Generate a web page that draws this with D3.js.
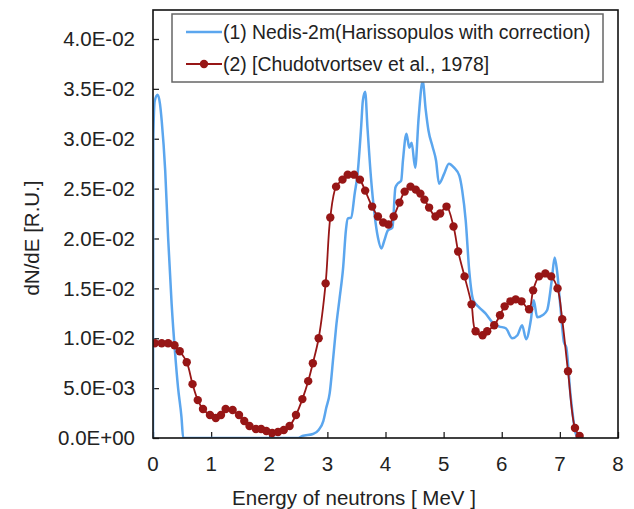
<!DOCTYPE html>
<html>
<head>
<meta charset="utf-8">
<script src="https://cdn.jsdelivr.net/npm/d3@7"></script>
<style>
  html, body { margin: 0; padding: 0; background: #fff; }
  svg { display: block; font-family: "Liberation Sans", Arial, sans-serif; }
</style>
</head>
<body>
<svg id="chart" width="634" height="509"></svg>
<script>
// series (1) Nedis-2m, energy [MeV] and dN/dE
const nedisE = [0, 0.005, 0.03, 0.08, 0.12, 0.15, 0.21, 0.26, 0.32, 0.38, 0.43, 0.49, 0.52,
  2.50, 2.57, 2.75, 2.85, 2.93, 2.98, 3.04, 3.10, 3.15, 3.21, 3.27, 3.32, 3.35, 3.41, 3.47, 3.52,
  3.58, 3.61, 3.65, 3.69, 3.75, 3.81, 3.87, 3.93, 3.98, 4.04, 4.12, 4.17, 4.21, 4.27, 4.30, 4.36,
  4.41, 4.45, 4.51, 4.57, 4.64, 4.69, 4.74, 4.81, 4.87, 4.92, 5.01, 5.09, 5.18, 5.27, 5.32, 5.38,
  5.44, 5.51, 5.61, 5.72, 5.84, 5.95, 6.07, 6.18, 6.27, 6.35, 6.42, 6.50, 6.55, 6.61, 6.70, 6.78,
  6.86, 6.91, 6.95, 7.01, 7.07, 7.11, 7.18, 7.27, 7.31];
const nedisV = [0, 0.0300, 0.0338, 0.0344, 0.0335, 0.0318, 0.0268, 0.0201, 0.0135, 0.0085, 0.0051, 0.0021, 0,
  0, 0.0002, 0.0004, 0.0008, 0.0017, 0.0030, 0.0045, 0.0080, 0.0111, 0.0140, 0.0170, 0.0209, 0.0220, 0.0221, 0.0245, 0.0265,
  0.0311, 0.0338, 0.0347, 0.0311, 0.0261, 0.0225, 0.0201, 0.0190, 0.0198, 0.0208, 0.0211, 0.0251, 0.0255, 0.0258, 0.0278, 0.0305,
  0.0291, 0.0296, 0.0271, 0.0321, 0.0358, 0.0330, 0.0308, 0.0292, 0.0278, 0.0255, 0.0265, 0.0275, 0.0271, 0.0263, 0.0248, 0.0218,
  0.0168, 0.0138, 0.0131, 0.0125, 0.0116, 0.0112, 0.0110, 0.0100, 0.0103, 0.0113, 0.0099, 0.0118, 0.0138, 0.0121, 0.0123, 0.0128,
  0.0158, 0.0181, 0.0168, 0.0131, 0.0096, 0.0091, 0.0045, 0.0005, 0];

// series (2) Chudotvortsev et al., 1978
const chudE = [0.03, 0.15, 0.26, 0.37, 0.46, 0.58, 0.68, 0.77, 0.86, 0.98, 1.08, 1.17, 1.25, 1.37,
  1.48, 1.57, 1.66, 1.77, 1.86, 1.95, 2.05, 2.15, 2.25, 2.35, 2.46, 2.57, 2.67, 2.75, 2.85, 2.97,
  3.05, 3.15, 3.26, 3.35, 3.46, 3.56, 3.65, 3.77, 3.87, 3.96, 4.05, 4.14, 4.24, 4.33, 4.43, 4.52,
  4.60, 4.67, 4.75, 4.86, 4.94, 5.05, 5.17, 5.25, 5.36, 5.48, 5.55, 5.67, 5.75, 5.87, 5.97, 6.05,
  6.15, 6.24, 6.34, 6.47, 6.54, 6.64, 6.75, 6.85, 6.96, 7.04, 7.14, 7.26, 7.34];
const chudV = [0.0095, 0.0095, 0.0095, 0.0093, 0.0087, 0.0076, 0.0054, 0.0038, 0.0029, 0.0023, 0.0020, 0.0023, 0.0029, 0.0028,
  0.0023, 0.0017, 0.0012, 0.0009, 0.0009, 0.0007, 0.0005, 0.0006, 0.0008, 0.0012, 0.0023, 0.0039, 0.0057, 0.0075, 0.0100, 0.0155,
  0.0221, 0.0252, 0.0259, 0.0264, 0.0264, 0.0259, 0.0248, 0.0232, 0.0222, 0.0216, 0.0214, 0.0222, 0.0236, 0.0247, 0.0252, 0.0249,
  0.0245, 0.0239, 0.0231, 0.0222, 0.0225, 0.0232, 0.0212, 0.0187, 0.0162, 0.0134, 0.0107, 0.0103, 0.0107, 0.0113, 0.0123, 0.0132,
  0.0137, 0.0139, 0.0137, 0.0129, 0.0148, 0.0162, 0.0165, 0.0162, 0.0150, 0.0119, 0.0067, 0.0010, 0.0002];

const xTicks = [0, 1, 2, 3, 4, 5, 6, 7, 8];
const yTicks = [0, 0.005, 0.01, 0.015, 0.02, 0.025, 0.03, 0.035, 0.04];
const yTickLabels = ["0.0E+00", "5.0E-03", "1.0E-02", "1.5E-02", "2.0E-02", "2.5E-02", "3.0E-02", "3.5E-02", "4.0E-02"];
const legendLabels = ["(1) Nedis-2m(Harissopulos with correction)", "(2) [Chudotvortsev et al., 1978]"];

const blue = "#5BA6EE";
const red = "#971616";

const svg = d3.select("#chart");
const plotL = 153, plotR = 618, plotT = 10, plotB = 438;

const x = d3.scaleLinear().domain([0, 8]).range([plotL, plotR]);
const y = d3.scaleLinear().domain([0, 0.04]).range([plotB, 39]);

svg.append("defs").append("clipPath").attr("id", "plotclip")
  .append("rect").attr("x", plotL).attr("y", plotT).attr("width", plotR - plotL).attr("height", plotB - plotT);

// y axis with inward ticks
const yAxis = svg.append("g")
  .attr("transform", `translate(${plotL},0)`)
  .call(d3.axisRight(y).tickValues(yTicks).tickSize(6).tickFormat(""));
yAxis.select(".domain").remove();
yAxis.selectAll("line").attr("stroke", "#222").attr("stroke-width", 1.3);
svg.append("g").selectAll("text").data(yTicks).join("text")
  .attr("x", 135).attr("y", d => y(d))
  .attr("dy", "0.35em").attr("text-anchor", "end")
  .attr("font-size", 20.5).attr("fill", "#222")
  .text((d, i) => yTickLabels[i]);

// x axis with inward ticks
const xAxis = svg.append("g")
  .attr("transform", `translate(0,${plotB})`)
  .call(d3.axisTop(x).tickValues(xTicks).tickSize(6).tickFormat(""));
xAxis.select(".domain").remove();
xAxis.selectAll("line").attr("stroke", "#222").attr("stroke-width", 1.3);
svg.append("g").selectAll("text").data(xTicks).join("text")
  .attr("x", d => x(d)).attr("y", 471)
  .attr("text-anchor", "middle")
  .attr("font-size", 20.5).attr("fill", "#222")
  .text(d => d);

// axis titles
svg.append("text")
  .attr("x", 354).attr("y", 505)
  .attr("text-anchor", "middle").attr("font-size", 20.5).attr("fill", "#222")
  .text("Energy of neutrons [ MeV ]");
svg.append("text")
  .attr("transform", "translate(39,238) rotate(-90)")
  .attr("text-anchor", "middle").attr("font-size", 20.5).attr("fill", "#222")
  .text("dN/dE [R.U.]");

// series
const plot = svg.append("g").attr("clip-path", "url(#plotclip)");
const nedis = nedisE.map((e, i) => [e, nedisV[i]]);
const chud = chudE.map((e, i) => [e, chudV[i]]);

plot.append("path")
  .datum(nedis)
  .attr("fill", "none").attr("stroke", blue).attr("stroke-width", 2.5)
  .attr("stroke-linejoin", "round")
  .attr("d", d3.line().x(d => x(d[0])).y(d => y(d[1])).curve(d3.curveMonotoneX));

plot.append("path")
  .datum(chud)
  .attr("fill", "none").attr("stroke", red).attr("stroke-width", 1.8)
  .attr("d", d3.line().x(d => x(d[0])).y(d => y(d[1])).curve(d3.curveCatmullRom.alpha(0.5)));

plot.selectAll("circle").data(chud).join("circle")
  .attr("cx", d => x(d[0])).attr("cy", d => y(d[1]))
  .attr("r", 4.2).attr("fill", red);

// plot frame
svg.append("rect")
  .attr("x", plotL).attr("y", plotT).attr("width", plotR - plotL).attr("height", plotB - plotT)
  .attr("fill", "none").attr("stroke", "#111").attr("stroke-width", 1.6);

// legend
const lg = svg.append("g");
lg.append("rect")
  .attr("x", 172).attr("y", 14).attr("width", 431).attr("height", 68)
  .attr("fill", "#fff").attr("stroke", "#666").attr("stroke-width", 1.5);
const rowsY = [32, 64];
lg.append("line").attr("x1", 186).attr("x2", 222).attr("y1", rowsY[0]).attr("y2", rowsY[0])
  .attr("stroke", blue).attr("stroke-width", 2.5);
lg.append("line").attr("x1", 186).attr("x2", 222).attr("y1", rowsY[1]).attr("y2", rowsY[1])
  .attr("stroke", red).attr("stroke-width", 1.8);
lg.append("circle").attr("cx", 204).attr("cy", rowsY[1]).attr("r", 4.2).attr("fill", red);
lg.selectAll("text").data(legendLabels).join("text")
  .attr("x", 223).attr("y", (d, i) => rowsY[i]).attr("dy", "0.35em")
  .attr("font-size", 19.4).attr("fill", "#222")
  .text(d => d);
</script>
</body>
</html>
